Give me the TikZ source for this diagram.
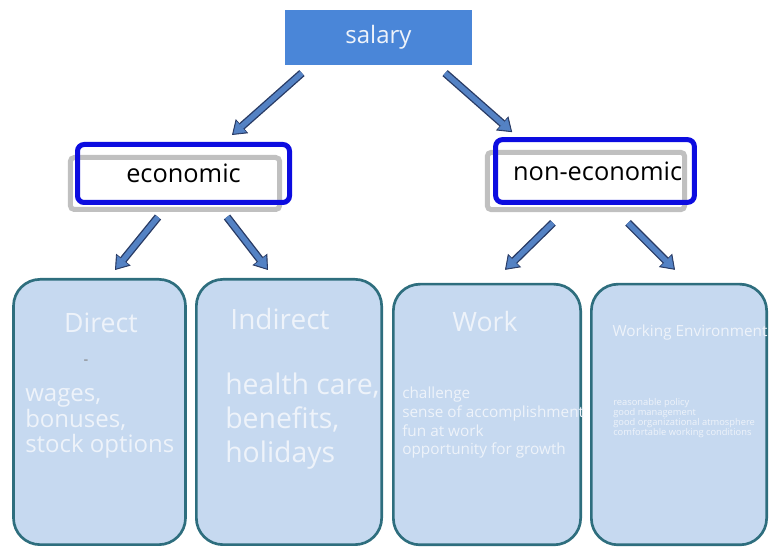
\documentclass[tikz,border=0pt]{standalone}
\usepackage{fontspec}
\setmainfont{Open Sans}
\usepackage{tikz}
\usetikzlibrary{arrows.meta,positioning,calc}
\definecolor{salblue}{RGB}{74,134,216}
\definecolor{frameblue}{RGB}{12,12,224}
\definecolor{shadegray}{RGB}{192,192,192}
\definecolor{cardfill}{RGB}{198,217,240}
\definecolor{cardline}{RGB}{46,110,126}
\definecolor{cardtext}{RGB}{238,243,250}
\definecolor{arrowblue}{RGB}{84,130,196}
\definecolor{arrowdark}{RGB}{40,58,100}

\begin{document}
\begin{tikzpicture}[x=0.75pt,y=-0.75pt,
    shadebox/.style={draw=shadegray,line width=3.75pt,fill=white,rounded corners=3pt,inner sep=0pt},
    framebox/.style={draw=frameblue,line width=3.75pt,rounded corners=5pt,inner sep=0pt,
                     font=\fontsize{19}{21}\selectfont},
    card/.style={draw=cardline,fill=cardfill,line width=2pt,rounded corners=20pt,
                 minimum height=199pt,inner sep=0pt},
    cardtitle/.style={text=cardtext,anchor=base,inner sep=0pt},
    cardlist/.style={text=cardtext,anchor=base west,align=left,inner sep=0pt},
    fatarrow/.style={draw=arrowdark,line width=6pt,
                     -{Triangle[length=10pt,width=14pt,line width=0.6pt]},
                     postaction={draw=arrowblue,line width=4pt,
                                 -{Triangle[length=8pt,width=11pt,line width=0.4pt]},shorten >=1.4pt}}]
    \useasboundingbox (0,0) rectangle (769,548);

    % top of the tree
    \node[fill=salblue,text=cardtext,minimum width=140pt,minimum height=41pt,
          font=\fontsize{18}{20}\selectfont] (salary) at (378.5,37.5) {salary};

    % economic / non-economic
    \node[shadebox,minimum width=157pt,minimum height=39pt] (econshade) at (175,183.5) {};
    \node[framebox,minimum width=159pt,minimum height=43.5pt] (econ) at (183.5,173.5)
        {\raisebox{-5pt}{economic}};
    \node[shadebox,minimum width=148pt,minimum height=43pt] (nonshade) at (586,181) {};
    \node[framebox,minimum width=149pt,minimum height=47pt] (noneco) at (595,171)
        {\hspace*{4pt}non-economic};

    % cards
    \node[card,minimum width=129pt] (direct) at (99.5,412) {};
    \node[card,minimum width=139pt] (indirect) at (289,412) {};
    \node[card,minimum width=140.5pt,minimum height=195.5pt] (work) at (487,414.5) {};
    \node[card,minimum width=131.5pt,minimum height=195.5pt] (env) at (679,414.5) {};

    \node[cardtitle,font=\fontsize{20}{22}\selectfont] (directtitle) at (101,333) {Direct};
    \node[text=gray,inner sep=0pt,font=\fontsize{11}{12}\selectfont] (dash) at (86,362) {-};
    \node[cardlist,font=\fontsize{18}{19.3}\selectfont] (directlist) at (25,453)
        {wages,\\bonuses,\\stock options};

    \node[cardtitle,font=\fontsize{21}{23}\selectfont] (indirecttitle) at (280,330) {Indirect};
    \node[cardlist,font=\fontsize{21.3}{25.5}\selectfont] (indirectlist) at (225,463)
        {health care,\\benefits,\\holidays};

    \node[cardtitle,font=\fontsize{20}{22}\selectfont] (worktitle) at (485,332) {Work};
    \node[cardlist,font=\fontsize{11.5}{14.2}\selectfont] (worklist) at (402,455)
        {challenge\\sense of accomplishment\\fun at work\\opportunity for growth};

    \node[cardtitle,font=\fontsize{11.5}{13}\selectfont] (envtitle) at (690,337) {Working Environment};
    \node[cardlist,font=\fontsize{7}{7.5}\selectfont] (envlist) at (613,436)
        {reasonable policy\\good management\\good organizational atmosphere\\comfortable working conditions};

    % arrows
    \draw[fatarrow] ($(salary.south west)+(17,8)$) -- ($(econ.north)+(48.5,-7)$);
    \draw[fatarrow] ($(salary.south east)+(-27,8)$) -- ($(noneco.north west)+(19,-5)$);
    \draw[fatarrow] ($(econ.south)+(-25.5,12)$) -- ($(direct.north)+(15.5,-8)$);
    \draw[fatarrow] ($(econ.south)+(43.5,12)$) -- ($(indirect.north)+(-21,-8)$);
    \draw[fatarrow] ($(noneco.south)+(-42,18)$) -- ($(work.north)+(18,-13)$);
    \draw[fatarrow] ($(noneco.south)+(33,18)$) -- ($(env.north)+(-4,-13)$);
\end{tikzpicture}
\end{document}
